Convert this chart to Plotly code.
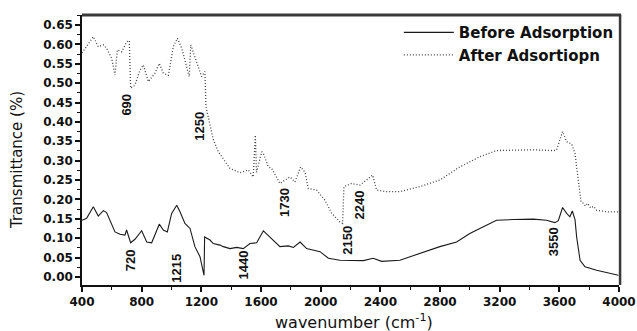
import plotly.graph_objects as go

# FTIR spectrum before adsorption (wavenumber in cm-1, transmittance)
before_wn = [400, 431, 476, 509, 543, 565, 621, 655, 688, 699, 726, 755, 800, 834, 867,
             918, 945, 972, 1001, 1035, 1057, 1090, 1124, 1157, 1191, 1218, 1222, 1258,
             1280, 1325, 1347, 1392, 1437, 1481, 1526, 1571, 1616, 1661, 1727, 1783, 1817,
             1862, 1906, 1996, 2052, 2129, 2286, 2352, 2409, 2531, 2665, 2799, 2911, 3000,
             3067, 3179, 3291, 3425, 3514, 3570, 3593, 3622, 3649, 3671, 3687, 3705, 3716,
             3739, 3772, 3850, 3996]
before_t = [0.146, 0.151, 0.181, 0.157, 0.171, 0.166, 0.116, 0.110, 0.108, 0.121, 0.088,
            0.097, 0.119, 0.090, 0.088, 0.136, 0.121, 0.116, 0.164, 0.185, 0.168, 0.138,
            0.125, 0.078, 0.052, 0.004, 0.103, 0.095, 0.086, 0.082, 0.078, 0.073, 0.076,
            0.073, 0.086, 0.088, 0.119, 0.103, 0.078, 0.080, 0.076, 0.090, 0.073, 0.065,
            0.048, 0.043, 0.042, 0.048, 0.040, 0.043, 0.060, 0.078, 0.090, 0.112, 0.125,
            0.146, 0.148, 0.149, 0.146, 0.140, 0.145, 0.179, 0.164, 0.155, 0.170, 0.148,
            0.103, 0.043, 0.026, 0.017, 0.004]

# FTIR spectrum after adsorption
after_wn = [400, 442, 476, 509, 543, 565, 599, 621, 637, 666, 700, 717, 726, 755, 789, 811,
            845, 889, 918, 945, 979, 1012, 1039, 1069, 1097, 1119, 1129, 1157, 1186, 1202,
            1224, 1231, 1258, 1280, 1314, 1392, 1459, 1515, 1548, 1562, 1570, 1605, 1616,
            1649, 1672, 1727, 1761, 1794, 1828, 1866, 1895, 1917, 1973, 2029, 2074, 2129,
            2147, 2156, 2207, 2263, 2308, 2348, 2375, 2442, 2531, 2665, 2799, 2933, 3067,
            3179, 3291, 3425, 3559, 3581, 3622, 3649, 3682, 3705, 3727, 3745, 3760, 3775,
            3790, 3810, 3830, 3850, 3917, 3996]
after_t = [0.578, 0.603, 0.620, 0.594, 0.599, 0.590, 0.564, 0.521, 0.586, 0.581, 0.607,
           0.610, 0.487, 0.495, 0.534, 0.547, 0.504, 0.526, 0.551, 0.526, 0.520, 0.594,
           0.616, 0.590, 0.547, 0.517, 0.599, 0.569, 0.534, 0.517, 0.530, 0.440, 0.392,
           0.355, 0.323, 0.280, 0.269, 0.276, 0.258, 0.366, 0.270, 0.323, 0.318, 0.284,
           0.280, 0.241, 0.250, 0.258, 0.245, 0.284, 0.270, 0.228, 0.224, 0.198, 0.164,
           0.142, 0.138, 0.233, 0.241, 0.237, 0.250, 0.263, 0.224, 0.220, 0.220, 0.233,
           0.250, 0.284, 0.310, 0.326, 0.327, 0.328, 0.326, 0.327, 0.375, 0.349, 0.343,
           0.319, 0.250, 0.194, 0.190, 0.183, 0.190, 0.178, 0.182, 0.172, 0.168, 0.168]

# Band labels: (text, wavenumber, transmittance)
band_labels = ["690", "1250", "1730", "2150", "2240", "720", "1215", "1440", "3550"]
band_wn = [700, 1191, 1761, 2174, 2259, 722, 1035, 1481, 3559]
band_t = [0.444, 0.390, 0.191, 0.095, 0.185, 0.043, 0.023, 0.030, 0.090]

x_ticks = list(range(400, 4001, 400))

fig = go.Figure()
fig.add_trace(go.Scatter(x=before_wn, y=before_t, mode="lines", name="Before Adsorption",
                         line=dict(color="#1a1a1a", width=1.1)))
fig.add_trace(go.Scatter(x=after_wn, y=after_t, mode="lines", name="After Adsortiopn",
                         line=dict(color="#444444", width=1.3, dash="1px,2px")))

for txt, xv, yv in zip(band_labels, band_wn, band_t):
    fig.add_annotation(x=xv, y=yv, text=txt, showarrow=False, textangle=-90,
                       font=dict(family="Liberation Sans", size=13, color="#111111",
                                 weight="bold"))

# axis titles
fig.add_annotation(xref="paper", yref="paper", x=-0.121, y=0.463, text="Transmittance (%)",
                   showarrow=False, textangle=-90, xanchor="center", yanchor="middle",
                   font=dict(family="DejaVu Sans", size=15, color="#111111"))
fig.add_annotation(xref="paper", yref="paper", x=0.5065, y=-0.137,
                   text="wavenumber (cm<sup>-1</sup>)", showarrow=False,
                   xanchor="center", yanchor="middle",
                   font=dict(family="DejaVu Sans", size=16, color="#111111"))

# heavier top and right frame lines
fig.add_shape(type="line", xref="paper", yref="paper", x0=0, x1=1.004, y0=1, y1=1,
              line=dict(color="#3a3a3a", width=3))
fig.add_shape(type="line", xref="paper", yref="paper", x0=1.002, x1=1.002, y0=0, y1=1,
              line=dict(color="#3a3a3a", width=2.5))

tick_font = dict(family="DejaVu Sans", size=12, color="#111111", weight="bold")

fig.update_xaxes(range=[400, 4000], tickvals=x_ticks, ticks="outside", ticklen=5,
                 tickwidth=1.5, tickcolor="#111111", showline=True, linecolor="#111111",
                 linewidth=1.5, showgrid=False, zeroline=False, tickfont=tick_font,
                 automargin=False,
                 minor=dict(dtick=200, tick0=400, ticks="outside", ticklen=3,
                            tickwidth=1.2, tickcolor="#111111"))
fig.update_yaxes(range=[-0.021, 0.676], dtick=0.05, tick0=0, tickformat=".2f",
                 ticks="outside", ticklen=5, tickwidth=1.5, tickcolor="#111111",
                 showline=True, linecolor="#111111", linewidth=1.5, showgrid=False,
                 zeroline=False, tickfont=tick_font, automargin=False,
                 minor=dict(dtick=0.025, tick0=0, ticks="outside", ticklen=3,
                            tickwidth=1.2, tickcolor="#111111"))

fig.update_layout(
    width=637, height=331,
    margin=dict(l=82, r=18, t=15, b=46, autoexpand=False),
    paper_bgcolor="white", plot_bgcolor="white",
    showlegend=True,
    legend=dict(x=0.59, y=0.996, xanchor="left", yanchor="top",
                bgcolor="rgba(0,0,0,0)", borderwidth=0, itemwidth=50,
                tracegroupgap=0,
                font=dict(family="DejaVu Sans", size=15, color="#111111", weight="bold")),
)

fig.write_html("out.html")
